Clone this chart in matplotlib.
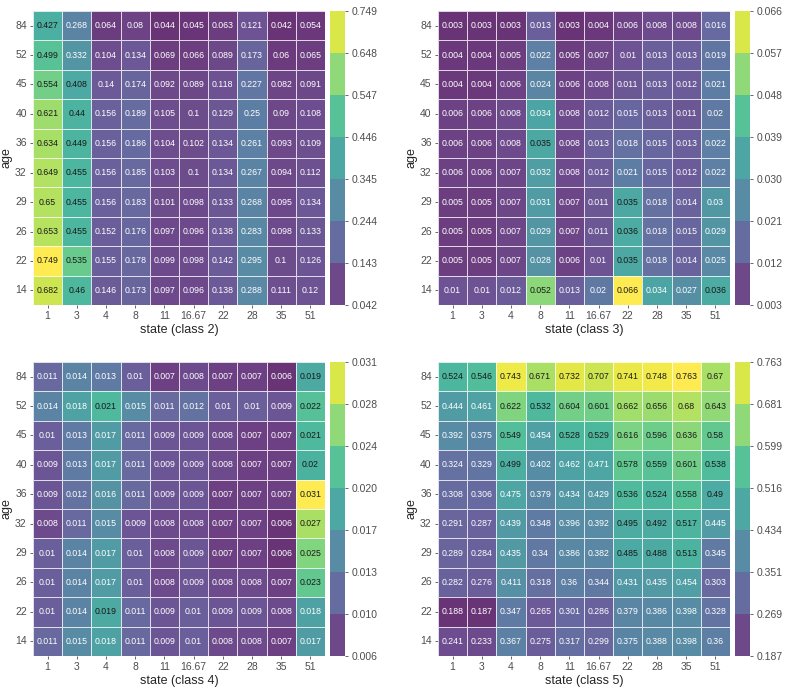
import numpy as np
import pandas as pd
import matplotlib
matplotlib.use("Agg")
import matplotlib.pyplot as plt
import seaborn as sns

ages = [84, 52, 45, 40, 36, 32, 29, 26, 22, 14]
states = ["1", "3", "4", "8", "11", "16.67", "22", "28", "35", "51"]

class2 = [
    [0.427, 0.268, 0.064, 0.08, 0.044, 0.045, 0.063, 0.121, 0.042, 0.054],
    [0.499, 0.332, 0.104, 0.134, 0.069, 0.066, 0.089, 0.173, 0.06, 0.065],
    [0.554, 0.408, 0.14, 0.174, 0.092, 0.089, 0.118, 0.227, 0.082, 0.091],
    [0.621, 0.44, 0.156, 0.189, 0.105, 0.1, 0.129, 0.25, 0.09, 0.108],
    [0.634, 0.449, 0.156, 0.186, 0.104, 0.102, 0.134, 0.261, 0.093, 0.109],
    [0.649, 0.455, 0.156, 0.185, 0.103, 0.1, 0.134, 0.267, 0.094, 0.112],
    [0.65, 0.455, 0.156, 0.183, 0.101, 0.098, 0.133, 0.268, 0.095, 0.134],
    [0.653, 0.455, 0.152, 0.176, 0.097, 0.096, 0.138, 0.283, 0.098, 0.133],
    [0.749, 0.535, 0.155, 0.178, 0.099, 0.098, 0.142, 0.295, 0.1, 0.126],
    [0.682, 0.46, 0.146, 0.173, 0.097, 0.096, 0.138, 0.288, 0.111, 0.12],
]
class3 = [
    [0.003, 0.003, 0.003, 0.013, 0.003, 0.004, 0.006, 0.008, 0.008, 0.016],
    [0.004, 0.004, 0.005, 0.022, 0.005, 0.007, 0.01, 0.013, 0.013, 0.019],
    [0.004, 0.004, 0.006, 0.024, 0.006, 0.008, 0.011, 0.013, 0.012, 0.021],
    [0.006, 0.006, 0.008, 0.034, 0.008, 0.012, 0.015, 0.013, 0.011, 0.02],
    [0.006, 0.006, 0.008, 0.035, 0.008, 0.013, 0.018, 0.015, 0.013, 0.022],
    [0.006, 0.006, 0.007, 0.032, 0.008, 0.012, 0.021, 0.015, 0.012, 0.022],
    [0.005, 0.005, 0.007, 0.031, 0.007, 0.011, 0.035, 0.018, 0.014, 0.03],
    [0.005, 0.005, 0.007, 0.029, 0.007, 0.011, 0.036, 0.018, 0.015, 0.029],
    [0.005, 0.005, 0.007, 0.028, 0.006, 0.01, 0.035, 0.018, 0.014, 0.025],
    [0.01, 0.01, 0.012, 0.052, 0.013, 0.02, 0.066, 0.034, 0.027, 0.036],
]
class4 = [
    [0.011, 0.014, 0.013, 0.01, 0.007, 0.008, 0.007, 0.007, 0.006, 0.019],
    [0.014, 0.018, 0.021, 0.015, 0.011, 0.012, 0.01, 0.01, 0.009, 0.022],
    [0.01, 0.013, 0.017, 0.011, 0.009, 0.009, 0.008, 0.007, 0.007, 0.021],
    [0.009, 0.013, 0.017, 0.011, 0.009, 0.009, 0.008, 0.007, 0.007, 0.02],
    [0.009, 0.012, 0.016, 0.011, 0.009, 0.009, 0.007, 0.007, 0.007, 0.031],
    [0.008, 0.011, 0.015, 0.009, 0.008, 0.008, 0.007, 0.007, 0.006, 0.027],
    [0.01, 0.014, 0.017, 0.01, 0.008, 0.009, 0.007, 0.007, 0.006, 0.025],
    [0.01, 0.014, 0.017, 0.01, 0.008, 0.009, 0.008, 0.008, 0.007, 0.023],
    [0.01, 0.014, 0.019, 0.011, 0.009, 0.01, 0.009, 0.009, 0.008, 0.018],
    [0.011, 0.015, 0.018, 0.011, 0.009, 0.01, 0.008, 0.008, 0.007, 0.017],
]
class5 = [
    [0.524, 0.546, 0.743, 0.671, 0.732, 0.707, 0.741, 0.748, 0.763, 0.67],
    [0.444, 0.461, 0.622, 0.532, 0.604, 0.601, 0.662, 0.656, 0.68, 0.643],
    [0.392, 0.375, 0.549, 0.454, 0.528, 0.529, 0.616, 0.596, 0.636, 0.58],
    [0.324, 0.329, 0.499, 0.402, 0.462, 0.471, 0.578, 0.559, 0.601, 0.538],
    [0.308, 0.306, 0.475, 0.379, 0.434, 0.429, 0.536, 0.524, 0.558, 0.49],
    [0.291, 0.287, 0.439, 0.348, 0.396, 0.392, 0.495, 0.492, 0.517, 0.445],
    [0.289, 0.284, 0.435, 0.34, 0.386, 0.382, 0.485, 0.488, 0.513, 0.345],
    [0.282, 0.276, 0.411, 0.318, 0.36, 0.344, 0.431, 0.435, 0.454, 0.303],
    [0.188, 0.187, 0.347, 0.265, 0.301, 0.286, 0.379, 0.386, 0.398, 0.328],
    [0.241, 0.233, 0.367, 0.275, 0.317, 0.299, 0.375, 0.388, 0.398, 0.36],
]

# colorbar labels as printed on the figure
cbar_labels2 = ["0.042", "0.143", "0.244", "0.345", "0.446", "0.547", "0.648", "0.749"]
cbar_labels3 = ["0.003", "0.012", "0.021", "0.030", "0.039", "0.048", "0.057", "0.066"]
cbar_labels4 = ["0.006", "0.010", "0.013", "0.017", "0.020", "0.024", "0.028", "0.031"]
cbar_labels5 = ["0.187", "0.269", "0.351", "0.434", "0.516", "0.599", "0.681", "0.763"]

sns.set_style("ticks")
plt.rcParams['font.family'] = ['Liberation Sans', 'DejaVu Sans']

fig = plt.figure(figsize=(7.88, 6.91), dpi=100)

panels = [
    (class2, cbar_labels2, "state (class 2)", 0.0419, 0.4188, 0.5586),
    (class3, cbar_labels3, "state (class 3)", 0.5558, 0.9327, 0.5586),
    (class4, cbar_labels4, "state (class 4)", 0.0419, 0.4188, 0.0507),
    (class5, cbar_labels5, "state (class 5)", 0.5558, 0.9327, 0.0507),
]

for vals, labels, xlabel, hx, cx, by in panels:
    ax = fig.add_axes([hx, by, 0.3706, 0.4255])
    cax = fig.add_axes([cx, by, 0.019, 0.4255])
    df = pd.DataFrame(vals, index=ages, columns=states)
    vmin, vmax = df.values.min(), df.values.max()
    bounds = np.linspace(vmin, vmax, 8)
    sns.heatmap(df, ax=ax, cbar_ax=cax, cmap="viridis", alpha=0.8,
                vmin=vmin, vmax=vmax, annot=True, fmt="g",
                annot_kws={"size": 6.3}, linewidths=0.6, linecolor="white",
                cbar_kws={"boundaries": bounds, "ticks": bounds})
    # dark text on the upper half of the scale, white below
    for txt, v in zip(ax.texts, df.values.ravel()):
        t = (v - vmin) / (vmax - vmin)
        txt.set_color(".1" if t > 0.505 else "white")
    cax.set_yticklabels(labels)
    cax.tick_params(labelsize=7.5, length=2.5, width=0.6, pad=2, colors=".3")
    ax.tick_params(labelsize=7.5, length=2.5, width=0.6, pad=2, colors=".3")
    ax.set_yticklabels(ax.get_yticklabels(), rotation=0)
    ax.set_xlabel(xlabel, fontsize=9, color=".15", labelpad=2)
    ax.set_ylabel("age", fontsize=9, color=".15", labelpad=2)

fig.savefig("out.png", dpi=100)
